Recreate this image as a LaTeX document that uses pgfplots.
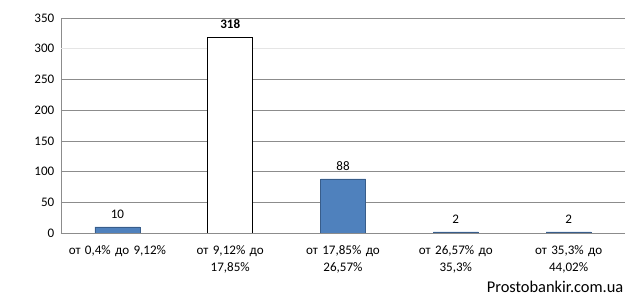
\documentclass[border=0pt]{standalone}
\usepackage{fontspec}
\setmainfont{Carlito}
\usepackage{pgfplots}
\pgfplotsset{compat=1.18}
\definecolor{barblue}{HTML}{4F81BD}
\definecolor{baredge}{HTML}{385D8A}
\definecolor{gridgray}{HTML}{8C8C8C}
\begin{document}
\begin{tikzpicture}
\begin{axis}[
  scale only axis, width=423pt, height=161.25pt,
  xmin=-0.5, xmax=4.5, ymin=0, ymax=350,
  axis x line*=bottom, axis y line*=left,
  axis line style={gridgray},
  ytick={0,50,100,150,200,250,350},
  extra y ticks={300},
  extra y tick style={grid style={color=gray!20, line width=0.8pt}},
  ymajorgrids, grid style={gridgray},
  ytick style={draw=none},
  xtick={0,1,2,3,4},
  xticklabels={{от 0,4\% до 9,12\%},{от 9,12\% до\\17,85\%},{от 17,85\% до\\26,57\%},{от 26,57\% до\\35,3\%},{от 35,3\% до\\44,02\%}},
  xtick style={draw=none},
  extra x ticks={-0.5,0.5,1.5,2.5,3.5,4.5},
  extra x tick labels={},
  extra x tick style={tick style={draw=gridgray}, major tick length=4pt, tick align=outside},
  x tick label style={align=center, font=\fontsize{9.8}{12.4}\selectfont, text width=80pt, yshift=-2pt},
  y tick label style={font=\fontsize{9.8}{12}\selectfont, xshift=-1.5pt},
  /pgf/number format/assume math mode=true,
  ybar, bar width=33.75pt,
  nodes near coords,
  nodes near coords style={font=\fontsize{9.8}{12}\selectfont, black, yshift=3pt},
]
\addplot[fill=barblue, draw=baredge, bar shift=0pt] coordinates {(0,10) (2,88) (3,2) (4,2)};
\addplot[fill=white, draw=black, bar shift=0pt, nodes near coords style={font=\fontsize{9.8}{12}\selectfont\bfseries}] coordinates {(1,318)};
\end{axis}
\node[anchor=base east, font=\fontsize{12.3}{14}\selectfont] at ([xshift=2.25pt,yshift=-44.5pt]current axis.south east) {Prostobankir.com.ua};
\pgfresetboundingbox
\path ([xshift=-45.75pt,yshift=13.5pt]current axis.north west) rectangle ([xshift=11.25pt,yshift=-54pt]current axis.south east);
\end{tikzpicture}
\end{document}
